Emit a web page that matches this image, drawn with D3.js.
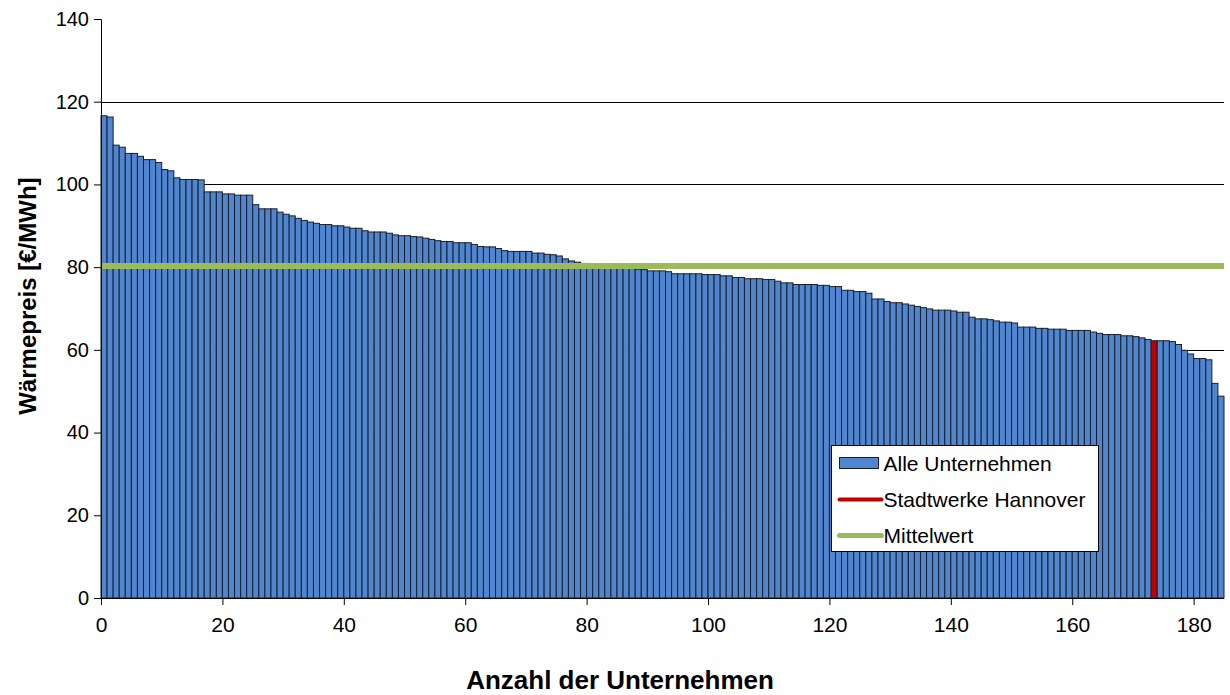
<!DOCTYPE html>
<html>
  <head>
    <meta charset="utf-8">
    <title>Wärmepreis</title>
    <script src="https://d3js.org/d3.v7.min.js"></script>
    <style>
      body { margin: 0; background: #fff; }
      text { font-family: "Liberation Sans", Arial, sans-serif; }
    </style>
  </head>
  <body>
    <div id="chart"></div>
    <script>
      // Wärmepreis je Unternehmen, absteigend sortiert
      var prices = [
        116.6, 116.3, 109.5, 109.0, 107.5, 107.5, 106.8, 106.0, 106.0, 105.3,
        103.6, 103.3, 101.6, 101.2, 101.2, 101.2, 101.1, 98.2, 98.2, 98.2,
        97.7, 97.7, 97.4, 97.4, 97.4, 95.1, 94.1, 94.1, 94.1, 93.3,
        92.8, 92.4, 91.8, 91.3, 90.9, 90.6, 90.3, 90.3, 90.0, 90.0,
        89.7, 89.4, 89.4, 88.8, 88.5, 88.5, 88.5, 88.2, 87.8, 87.6,
        87.6, 87.4, 87.3, 87.0, 86.7, 86.4, 86.2, 86.2, 85.9, 85.9,
        85.9, 85.5, 85.0, 84.9, 84.9, 84.5, 84.0, 83.8, 83.8, 83.8,
        83.8, 83.4, 83.4, 83.1, 83.0, 82.7, 82.0, 81.5, 81.2, 80.9,
        80.8, 80.6, 80.4, 80.2, 80.1, 79.9, 79.8, 79.7, 79.5, 79.4,
        79.1, 79.1, 79.1, 78.9, 78.4, 78.4, 78.4, 78.4, 78.4, 78.2,
        78.2, 78.2, 77.9, 77.9, 77.5, 77.5, 77.2, 77.2, 77.2, 77.0,
        77.0, 76.6, 76.2, 76.2, 75.8, 75.8, 75.8, 75.8, 75.6, 75.6,
        75.3, 75.3, 74.4, 74.4, 74.1, 74.1, 73.7, 72.3, 72.3, 71.7,
        71.4, 71.4, 71.1, 70.8, 70.5, 70.2, 69.9, 69.6, 69.6, 69.6,
        69.4, 69.1, 69.1, 67.9, 67.5, 67.5, 67.3, 67.0, 66.7, 66.7,
        66.5, 65.5, 65.5, 65.5, 65.2, 65.2, 65.0, 65.0, 65.0, 64.7,
        64.7, 64.7, 64.7, 64.3, 64.0, 63.7, 63.7, 63.7, 63.4, 63.4,
        63.2, 62.9, 62.5, 62.2, 62.2, 62.2, 62.0, 61.3, 59.9, 59.0,
        57.9, 57.9, 57.6, 51.9, 48.8
      ];
      var hannoverIndex = 173;   // Stadtwerke Hannover
      var meanValue = 80.3;      // Mittelwert
      var xTicks = [0, 20, 40, 60, 80, 100, 120, 140, 160, 180];
      var yTicks = [0, 20, 40, 60, 80, 100, 120, 140];
      var legendNames = ["Alle Unternehmen", "Stadtwerke Hannover", "Mittelwert"];

      var margin = { top: 19, right: 6, bottom: 97, left: 101 };
      var width = 1230 - margin.left - margin.right;
      var height = 695 - margin.top - margin.bottom;

      var blue = "#4f86cf", red = "#c00000", green = "#9bbb59";

      var svg = d3
        .select("#chart")
        .append("svg")
        .attr("width", 1230)
        .attr("height", 695)
        .append("g")
        .attr("transform", "translate(" + margin.left + "," + margin.top + ")");

      var xScale = d3.scaleLinear().domain([0, prices.length]).range([0, width]);
      var yScale = d3.scaleLinear().domain([0, 140]).range([height, 0]);

      // Gitternetzlinien
      svg
        .append("g")
        .selectAll("line")
        .data(yTicks.filter((d) => d > 0 && d < 140))
        .enter()
        .append("line")
        .attr("x1", 0)
        .attr("x2", width)
        .attr("y1", (d) => Math.round(yScale(d)) + 0.5)
        .attr("y2", (d) => Math.round(yScale(d)) + 0.5)
        .attr("stroke", "#000")
        .attr("stroke-width", 1);

      // Balken
      svg
        .append("g")
        .selectAll("rect")
        .data(prices)
        .enter()
        .append("rect")
        .attr("x", (d, i) => xScale(i))
        .attr("y", (d) => yScale(d))
        .attr("width", (d, i) => xScale(i + 1) - xScale(i))
        .attr("height", (d) => height - yScale(d))
        .attr("fill", (d, i) => (i === hannoverIndex ? red : blue))
        .attr("stroke", "#1b1f28")
        .attr("stroke-width", 1);

      // Mittelwert
      svg
        .append("line")
        .attr("x1", 0)
        .attr("x2", width)
        .attr("y1", yScale(meanValue))
        .attr("y2", yScale(meanValue))
        .attr("stroke", green)
        .attr("stroke-width", 6);

      // Achsen
      var xAxis = d3.axisBottom(xScale).tickValues(xTicks).tickSize(7).tickPadding(12);
      var gx = svg
        .append("g")
        .attr("transform", "translate(0," + height + ")")
        .call(xAxis);
      gx.selectAll("text").attr("font-size", "21px").attr("fill", "#000");

      var yAxis = d3.axisLeft(yScale).tickValues(yTicks).tickSize(7).tickPadding(5);
      var gy = svg.append("g").call(yAxis);
      gy.selectAll("text").attr("font-size", "20px").attr("fill", "#000");
      gy.select(".domain").attr("d", "M-7,0.5H0.5V" + (height + 0.5));
      gx.select(".domain").attr("d", "M-7," + 0.5 + "H" + width);

      // Achsentitel
      svg
        .append("text")
        .text("Anzahl der Unternehmen")
        .attr("x", 519)
        .attr("y", height + 91)
        .attr("text-anchor", "middle")
        .attr("font-size", "26px")
        .attr("font-weight", "bold");

      svg
        .append("text")
        .text("Wärmepreis [€/MWh]")
        .attr("transform", "translate(" + (-65) + "," + yScale(73) + ") rotate(-90)")
        .attr("text-anchor", "middle")
        .attr("font-size", "24px")
        .attr("font-weight", "bold");

      // Legende
      var legend = svg.append("g").attr("transform", "translate(730.5,426.5)");
      legend
        .append("rect")
        .attr("width", 267)
        .attr("height", 106)
        .attr("fill", "#fff")
        .attr("stroke", "#000");

      var legendItems = legend
        .selectAll("g")
        .data(legendNames)
        .enter()
        .append("g")
        .attr("transform", (d, i) => "translate(0," + (18 + i * 36) + ")");

      legendItems.each(function (d, i) {
        var g = d3.select(this);
        if (i === 0) {
          g.append("rect")
            .attr("x", 8)
            .attr("y", -6)
            .attr("width", 39)
            .attr("height", 11)
            .attr("fill", blue)
            .attr("stroke", "#1b1f28");
        } else {
          g.append("line")
            .attr("x1", 8)
            .attr("x2", 50)
            .attr("stroke", i === 1 ? red : green)
            .attr("stroke-width", i === 1 ? 4 : 5)
            .attr("stroke-linecap", "round");
        }
        g.append("text")
          .text(d)
          .attr("x", 52)
          .attr("dy", "0.35em")
          .attr("font-size", "21px");
      });
    </script>
  </body>
</html>
